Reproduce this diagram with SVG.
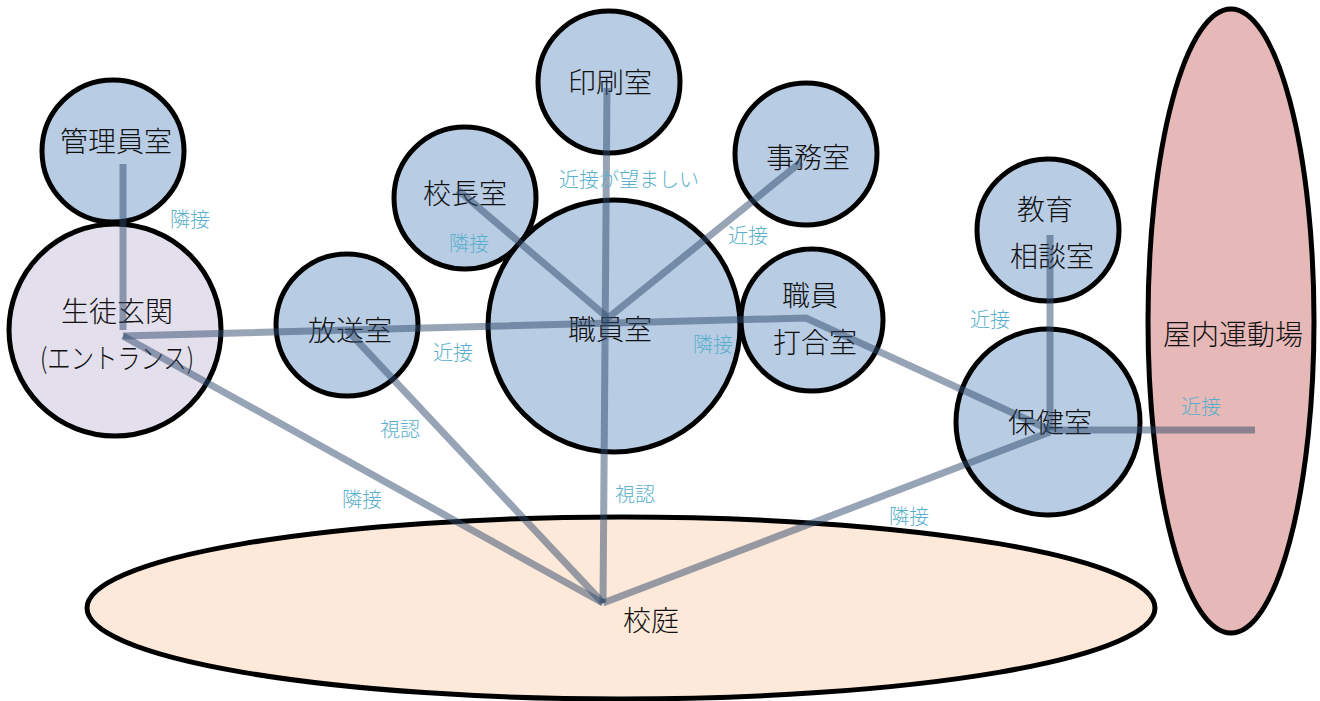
<svg xmlns="http://www.w3.org/2000/svg" width="1320" height="701" viewBox="0 0 1320 701">
<style>
.n{fill:#b8cce4;stroke:#000;stroke-width:5}
.t{font-family:"Noto Sans CJK JP","Noto Sans",sans-serif;font-size:28px;fill:#111;text-anchor:middle;dominant-baseline:central;font-weight:300}
.l{font-family:"Noto Sans CJK JP","Noto Sans",sans-serif;font-size:20px;fill:#5ab0cc;text-anchor:middle;dominant-baseline:central;font-weight:300}
.c{fill:none;stroke:#2f4a6b;stroke-opacity:0.5;stroke-width:7;stroke-linejoin:miter}
</style>
<rect width="1320" height="701" fill="#fff"/>
<g id="kotei"><ellipse cx="621" cy="608" rx="534" ry="91" fill="#fde9d9" stroke="#000" stroke-width="5"/><text class="t" x="651" y="619">校庭</text></g>
<g id="okunai"><ellipse cx="1231" cy="321" rx="83" ry="312" fill="#e6b8b7" stroke="#000" stroke-width="5"/><text class="t" x="1233" y="333">屋内運動場</text></g>
<g id="kanri"><circle class="n" cx="113" cy="151" r="71"/><text class="t" x="116" y="140">管理員室</text></g>
<g id="genkan"><circle cx="115" cy="330" r="106" fill="#e4dfec" stroke="#000" stroke-width="5"/><text class="t" x="117" y="310">生徒玄関</text><text class="t" x="117" y="357" textLength="154" lengthAdjust="spacingAndGlyphs">(エントランス)</text></g>
<g id="housou"><circle class="n" cx="347" cy="325" r="71"/><text class="t" x="350" y="329">放送室</text></g>
<g id="kouchou"><circle class="n" cx="465" cy="198" r="71"/><text class="t" x="465" y="192">校長室</text></g>
<g id="insatsu"><circle class="n" cx="609" cy="82" r="71"/><text class="t" x="610" y="81">印刷室</text></g>
<g id="jimu"><circle class="n" cx="806" cy="154" r="71"/><text class="t" x="808" y="156">事務室</text></g>
<g id="shokuin"><circle class="n" cx="614" cy="326" r="126"/><text class="t" x="610" y="328">職員室</text></g>
<g id="uchiawase"><circle class="n" cx="812" cy="320" r="71"/><text class="t" x="810" y="294">職員</text><text class="t" x="815" y="341">打合室</text></g>
<g id="kyouiku"><circle class="n" cx="1048" cy="230" r="71"/><text class="t" x="1045" y="208">教育</text><text class="t" x="1052" y="255">相談室</text></g>
<g id="hoken"><ellipse class="n" cx="1048" cy="422" rx="92" ry="93"/><text class="t" x="1050" y="421">保健室</text></g>
<g id="connectors">
<path class="c" d="M123 164V330"/>
<path class="c" d="M123 336L806 318L1050 430"/>
<path class="c" d="M1050 430H1255"/>
<path class="c" d="M1050 235V430"/>
<path class="c" d="M123 336L603 603"/>
<path class="c" d="M347 330L603 603"/>
<path class="c" d="M607 88L603 603"/>
<path class="c" d="M458 190L608 318L801 162"/>
<path class="c" d="M1050 432L603 603"/>
</g>
<g id="labels">
<text class="l" x="190" y="218">隣接</text>
<text class="l" x="469" y="242">隣接</text>
<text class="l" x="629" y="178">近接が望ましい</text>
<text class="l" x="748" y="234">近接</text>
<text class="l" x="713" y="343">隣接</text>
<text class="l" x="453" y="351">近接</text>
<text class="l" x="400" y="428">視認</text>
<text class="l" x="362" y="498">隣接</text>
<text class="l" x="635" y="493">視認</text>
<text class="l" x="909" y="515">隣接</text>
<text class="l" x="990" y="318">近接</text>
<text class="l" x="1201" y="405">近接</text>
</g>
</svg>
